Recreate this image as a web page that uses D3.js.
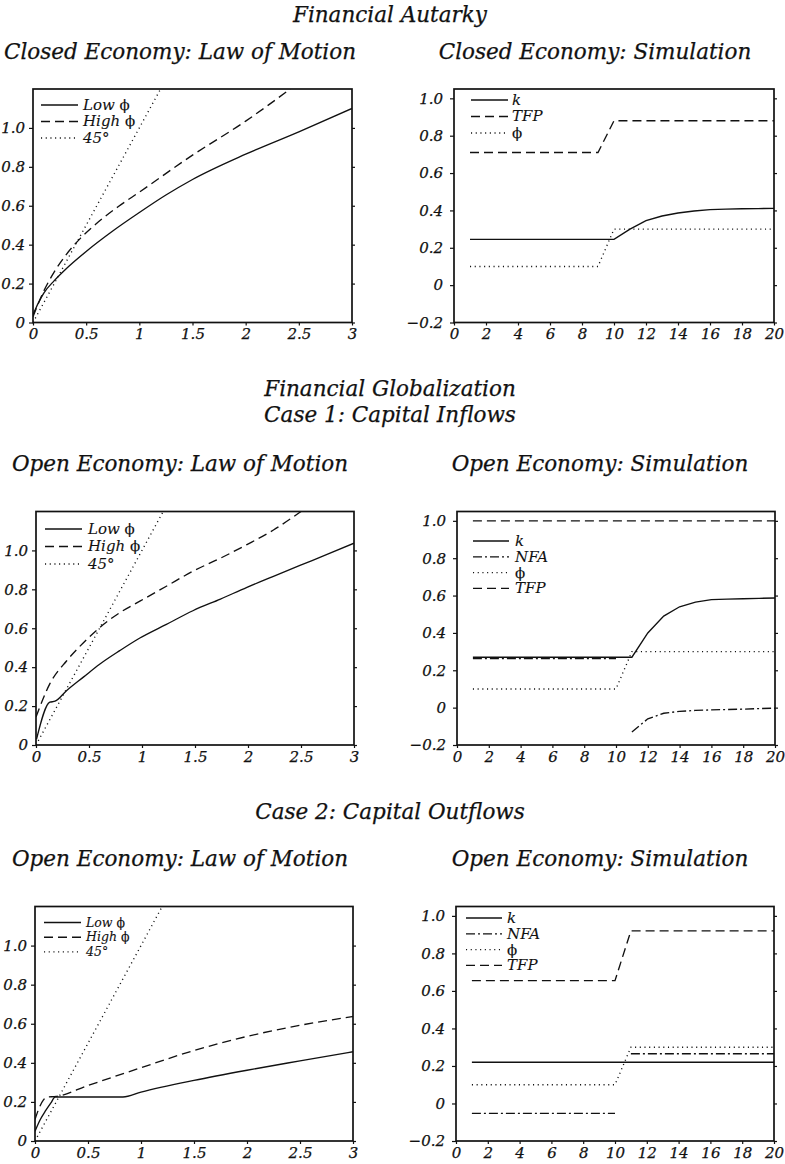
<!DOCTYPE html>
<html><head><meta charset="utf-8">
<script src="https://cdn.jsdelivr.net/npm/d3@7"></script>
<style>
body{margin:0;background:#fff;}
svg text{font-family:"DejaVu Serif",serif;font-style:italic;fill:#111;stroke:#111;stroke-width:0.25px;}
</style></head>
<body><svg id="c" width="785" height="1164"></svg>
<script>
// ---------- DATA ----------
const lomXTicks = [0, 0.5, 1, 1.5, 2, 2.5, 3];
const lomYTicks = [0, 0.2, 0.4, 0.6, 0.8, 1.0];
const simXTicks = [0, 2, 4, 6, 8, 10, 12, 14, 16, 18, 20];
const simYTicks = [-0.2, 0, 0.2, 0.4, 0.6, 0.8, 1.0];
const periods = [1,2,3,4,5,6,7,8,9,10,11,12,13,14,15,16,17,18,19,20];
const deg45X = [0, 1.25];
const deg45Y = [0, 1.25];

// Closed economy law of motion
const closedLowX  = [0, 0.05, 0.1, 0.2, 0.3, 0.5, 0.75, 1.0, 1.25, 1.5, 2.0, 2.5, 3.0];
const closedLowY  = [0.04, 0.10, 0.15, 0.215, 0.27, 0.365, 0.47, 0.565, 0.655, 0.735, 0.865, 0.98, 1.10];
const closedHighX = [0, 0.1, 0.2, 0.3, 0.45, 0.6, 0.8, 1.0, 1.5, 2.0, 2.42];
const closedHighY = [0.03, 0.16, 0.26, 0.34, 0.435, 0.51, 0.595, 0.67, 0.86, 1.035, 1.2];

// Closed economy simulation
const closedK   = [0.245,0.245,0.245,0.245,0.245,0.245,0.245,0.245,0.245,0.245,0.30,0.345,0.37,0.386,0.397,0.404,0.407,0.409,0.41,0.411];
const closedTFP = [0.71,0.71,0.71,0.71,0.71,0.71,0.71,0.71,0.71,0.88,0.88,0.88,0.88,0.88,0.88,0.88,0.88,0.88,0.88,0.88];
const closedPhi = [0.10,0.10,0.10,0.10,0.10,0.10,0.10,0.10,0.10,0.30,0.30,0.30,0.30,0.30,0.30,0.30,0.30,0.30,0.30,0.30];

// Open economy case 1 law of motion
const in1LowX  = [0.005, 0.13, 0.18, 0.29, 0.45, 0.6, 0.79, 0.98, 1.23, 1.48, 1.74, 1.99, 2.24, 2.49, 2.74, 3.0];
const in1LowY  = [0.03, 0.22, 0.225, 0.28, 0.35, 0.415, 0.485, 0.55, 0.62, 0.69, 0.75, 0.81, 0.867, 0.923, 0.978, 1.037];
const in1HighX = [0.0, 0.13, 0.29, 0.45, 0.6, 0.79, 0.98, 1.23, 1.48, 1.74, 1.99, 2.24, 2.5];
const in1HighY = [0.144, 0.314, 0.433, 0.527, 0.603, 0.68, 0.739, 0.816, 0.893, 0.96, 1.03, 1.105, 1.2];

// Open economy case 1 simulation
const in1K   = [0.27,0.27,0.27,0.27,0.27,0.27,0.27,0.27,0.27,0.27,0.27,0.40,0.49,0.54,0.565,0.578,0.581,0.583,0.585,0.587];
const in1NFA = [0.262,0.262,0.262,0.262,0.262,0.262,0.262,0.262,0.262,0.262,-0.13,-0.06,-0.03,-0.02,-0.015,-0.012,-0.01,-0.008,-0.005,-0.003];
const in1Phi = [0.10,0.10,0.10,0.10,0.10,0.10,0.10,0.10,0.10,0.10,0.30,0.30,0.30,0.30,0.30,0.30,0.30,0.30,0.30,0.30];
const in1TFP = [1.0,1.0,1.0,1.0,1.0,1.0,1.0,1.0,1.0,1.0,1.0,1.0,1.0,1.0,1.0,1.0,1.0,1.0,1.0,1.0];

// Open economy case 2 law of motion
const out2LowX  = [0, 0.05, 0.1, 0.15, 0.19, 0.83, 1.0, 1.5, 2.0, 2.5, 3.0];
const out2LowY  = [0.05, 0.11, 0.155, 0.195, 0.225, 0.225, 0.25, 0.31, 0.362, 0.41, 0.457];
const out2HighX = [0, 0.04, 0.08, 0.11, 0.2, 0.5, 1.0, 1.5, 2.0, 2.5, 3.0];
const out2HighY = [0.11, 0.17, 0.21, 0.225, 0.228, 0.284, 0.375, 0.463, 0.535, 0.592, 0.637];

// Open economy case 2 simulation
const out2K   = [0.22,0.22,0.22,0.22,0.22,0.22,0.22,0.22,0.22,0.22,0.22,0.22,0.22,0.22,0.22,0.22,0.22,0.22,0.22,0.22];
const out2NFA = [-0.053,-0.053,-0.053,-0.053,-0.053,-0.053,-0.053,-0.053,-0.053,-0.053,0.265,0.265,0.265,0.265,0.265,0.265,0.265,0.265,0.265,0.265];
const out2Phi = [0.10,0.10,0.10,0.10,0.10,0.10,0.10,0.10,0.10,0.10,0.30,0.30,0.30,0.30,0.30,0.30,0.30,0.30,0.30,0.30];
const out2TFP = [0.655,0.655,0.655,0.655,0.655,0.655,0.655,0.655,0.655,0.655,0.92,0.92,0.92,0.92,0.92,0.92,0.92,0.92,0.92,0.92];

// ---------- STYLE ----------
const DASH = {solid: null, dashed: "9,5", dotted: "1.1,3.6", dashdot: "9,3,2,3"};
const svg = d3.select("#c");
const zip = (xs, ys) => xs.map((x, i) => ({x, y: ys[i]}));

function title(text, x, y, size) {
  svg.append("text").attr("x", x).attr("y", y).attr("text-anchor", "middle")
    .attr("font-size", size).text(text);
}

let clipId = 0;
function panel(cfg) {
  const {left, right, top, bottom} = cfg.box;
  const x = d3.scaleLinear().domain(cfg.xDomain).range([left, right]);
  const y = d3.scaleLinear().domain(cfg.yDomain).range([bottom, top]);
  const g = svg.append("g");
  const id = "clip" + (clipId++);
  g.append("clipPath").attr("id", id).append("rect")
    .attr("x", left).attr("y", top).attr("width", right - left).attr("height", bottom - top);

  const styleAxis = (ax) => {
    ax.select(".domain").remove();
    ax.selectAll(".tick line").attr("stroke", "#111").attr("stroke-width", 1.2);
    ax.selectAll(".tick text").attr("font-size", 15).attr("font-family", "DejaVu Serif")
      .attr("font-style", "italic").attr("fill", "#111");
  };
  const yfmt = d => d === 0 ? "0" : d3.format(".1f")(d);
  g.append("g").attr("transform", `translate(${left},0)`)
    .call(d3.axisLeft(y).tickValues(cfg.yTicks).tickSize(4).tickPadding(cfg.yPad).tickFormat(yfmt))
    .call(styleAxis);
  g.append("g").attr("transform", `translate(${right},0)`)
    .call(d3.axisRight(y).tickValues(cfg.yTicks).tickSize(3).tickFormat(""))
    .call(styleAxis);
  g.append("g").attr("transform", `translate(0,${bottom})`)
    .call(d3.axisBottom(x).tickValues(cfg.xTicks).tickSize(3).tickPadding(3).tickFormat(d => String(d)))
    .call(styleAxis);

  const line = d3.line().x(d => x(d.x)).y(d => y(d.y)).curve(cfg.curve || d3.curveLinear);
  const lg = g.append("g").attr("clip-path", `url(#${id})`);
  cfg.series.forEach(s => {
    const segs = s.segments || [s.data];
    segs.forEach(seg => {
      lg.append("path").datum(seg).attr("d", line).attr("fill", "none")
        .attr("stroke", "#111").attr("stroke-width", 1.35)
        .attr("stroke-dasharray", DASH[s.style]);
    });
  });

  g.append("rect").attr("x", left).attr("y", top).attr("width", right - left).attr("height", bottom - top)
    .attr("fill", "none").attr("stroke", "#111").attr("stroke-width", 1.7);

  // legend
  const L = cfg.legend;
  cfg.series.forEach((s, i) => {
    const ly = L.y + i * L.dy;
    g.append("line").attr("x1", L.x).attr("x2", L.x + L.len).attr("y1", ly).attr("y2", ly)
      .attr("stroke", "#111").attr("stroke-width", 1.35)
      .attr("stroke-dasharray", DASH[s.style]);
    const t = g.append("text").attr("x", L.x + L.len + L.gap).attr("y", ly).attr("dy", "0.33em")
      .attr("font-size", L.size).style("stroke-width", "0.1px");
    t.text(s.label);
    if (s.phi) t.append("tspan").attr("font-style", "normal").text("ϕ");
  });
}

// ---------- TITLES ----------
const TS = 21.5;
title("Financial Autarky", 390, 22, TS);
title("Closed Economy: Law of Motion", 180, 59, TS);
title("Closed Economy: Simulation", 595, 59, TS);
title("Financial Globalization", 390, 396, TS);
title("Case 1: Capital Inflows", 390, 422, TS);
title("Open Economy: Law of Motion", 180, 471, TS);
title("Open Economy: Simulation", 600, 471, TS);
title("Case 2: Capital Outflows", 390, 819, TS);
title("Open Economy: Law of Motion", 180, 866, TS);
title("Open Economy: Simulation", 600, 866, TS);

const lomBase = {xDomain: [0, 3], yDomain: [0, 1.2], xTicks: lomXTicks, yTicks: lomYTicks, yPad: 4, curve: d3.curveMonotoneX};
const simBase = {xDomain: [0, 20], yDomain: [-0.2, 1.05], xTicks: simXTicks, yTicks: simYTicks, yPad: 7, curve: d3.curveLinear};

panel({...lomBase, box: {left: 33, right: 352, top: 89, bottom: 322.5},
  legend: {x: 41, y: 105, dy: 16.5, len: 37, gap: 5, size: 15},
  series: [
    {label: "Low ", phi: true, style: "solid", data: zip(closedLowX, closedLowY)},
    {label: "High ", phi: true, style: "dashed", data: zip(closedHighX, closedHighY)},
    {label: "45°", style: "dotted", data: zip(deg45X, deg45Y)}
  ]});

panel({...simBase, box: {left: 454, right: 774, top: 89, bottom: 322.5},
  legend: {x: 471, y: 100, dy: 16.5, len: 37, gap: 4, size: 15},
  series: [
    {label: "k", style: "solid", data: zip(periods, closedK)},
    {label: "TFP", style: "dashed", data: zip(periods, closedTFP)},
    {label: "", phi: true, style: "dotted", data: zip(periods, closedPhi)}
  ]});

panel({...lomBase, box: {left: 36, right: 354, top: 511.5, bottom: 745},
  legend: {x: 45, y: 529, dy: 17.5, len: 37, gap: 6, size: 15},
  series: [
    {label: "Low ", phi: true, style: "solid", data: zip(in1LowX, in1LowY)},
    {label: "High ", phi: true, style: "dashed", data: zip(in1HighX, in1HighY)},
    {label: "45°", style: "dotted", data: zip(deg45X, deg45Y)}
  ]});

panel({...simBase, box: {left: 457, right: 775, top: 511.5, bottom: 745},
  legend: {x: 473, y: 541, dy: 15.8, len: 36, gap: 6, size: 15},
  series: [
    {label: "k", style: "solid", data: zip(periods, in1K)},
    {label: "NFA", style: "dashdot", segments: [zip(periods.slice(0, 10), in1NFA.slice(0, 10)), zip(periods.slice(10), in1NFA.slice(10))]},
    {label: "", phi: true, style: "dotted", data: zip(periods, in1Phi)},
    {label: "TFP", style: "dashed", data: zip(periods, in1TFP)}
  ]});

panel({...lomBase, box: {left: 35, right: 353, top: 906.5, bottom: 1141},
  legend: {x: 44, y: 922.5, dy: 14.7, len: 37, gap: 5, size: 12.5},
  series: [
    {label: "Low ", phi: true, style: "solid", data: zip(out2LowX, out2LowY)},
    {label: "High ", phi: true, style: "dashed", data: zip(out2HighX, out2HighY)},
    {label: "45°", style: "dotted", data: zip(deg45X, deg45Y)}
  ]});

panel({...simBase, box: {left: 456, right: 774, top: 906.5, bottom: 1141},
  legend: {x: 466, y: 918, dy: 15.8, len: 36, gap: 5, size: 15},
  series: [
    {label: "k", style: "solid", data: zip(periods, out2K)},
    {label: "NFA", style: "dashdot", segments: [zip(periods.slice(0, 10), out2NFA.slice(0, 10)), zip(periods.slice(10), out2NFA.slice(10))]},
    {label: "", phi: true, style: "dotted", data: zip(periods, out2Phi)},
    {label: "TFP", style: "dashed", data: zip(periods, out2TFP)}
  ]});
</script></body></html>
